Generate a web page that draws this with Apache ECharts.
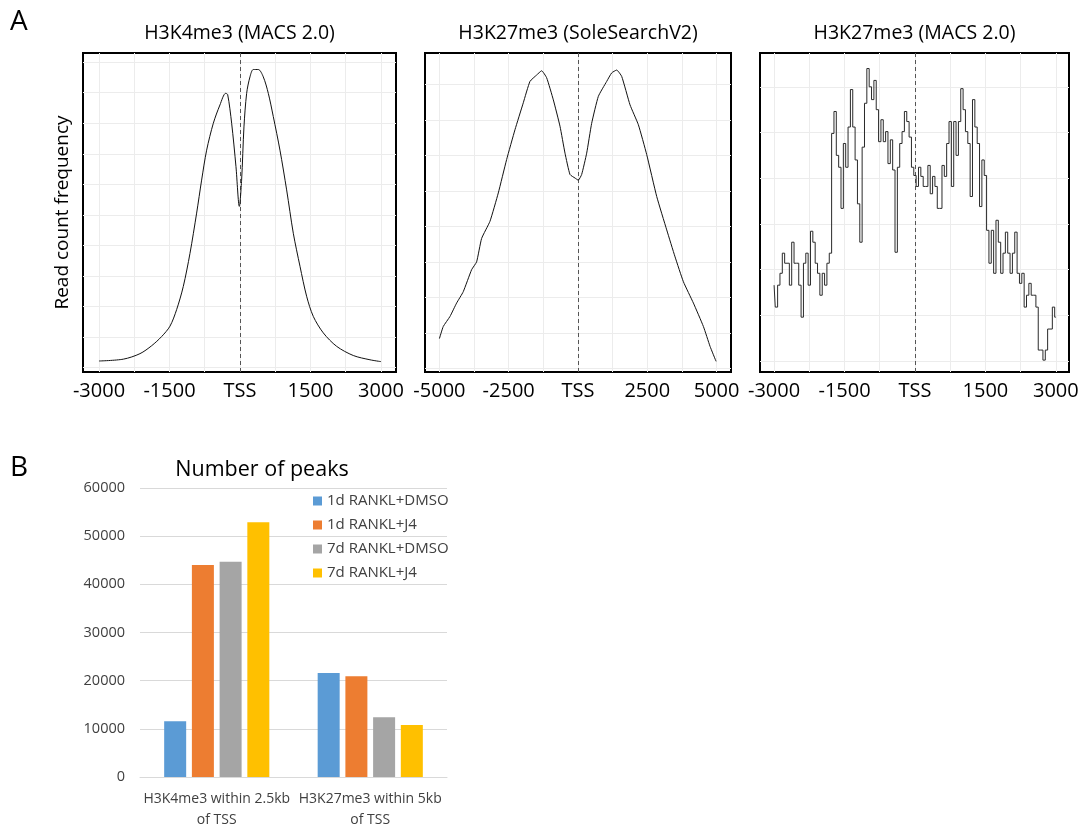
<!DOCTYPE html>
<html>
<head>
<meta charset="utf-8">
<script src="https://cdn.jsdelivr.net/npm/echarts@6/dist/echarts.min.js"></script>
<style>
  html, body { margin: 0; background: #fff; }
  #chart { width: 1083px; height: 825px; }
</style>
</head>
<body>
<div id="chart"></div>
<script>
// A1 - H3K4me3 (MACS 2.0), position vs relative read count
var k4Pos = [-3000, -2482, -2128, -1879, -1667, -1489, -1348, -1206, -1064, -922, -816, -709, -567, -426, -305, -262,
  -177, -85, -14, 35, 85, 142, 213, 284, 390, 496, 603, 709, 851, 993, 1135, 1277, 1418, 1560, 1773, 2057, 2411, 2766, 3000];
var k4Val = [0.11, 0.14, 0.23, 0.36, 0.51, 0.68, 0.95, 1.33, 1.87, 2.53, 3.07, 3.56, 4.0, 4.30, 4.49, 4.47,
  4.0, 3.29, 2.64, 3.07, 3.94, 4.49, 4.76, 4.88, 4.88, 4.76, 4.49, 4.11, 3.56, 2.91, 2.20, 1.66, 1.17, 0.84, 0.57, 0.35, 0.20, 0.13, 0.10];

// A2 - H3K27me3 (SoleSearchV2)
var solePos = [-5000, -4862, -4621, -4380, -4140, -3838, -3658, -3477, -3177, -2876, -2575, -2274, -1973, -1733, -1492, -1311,
  -1130, -890, -650, -469, -289, -108, 12, 132, 313, 493, 734, 1035, 1216, 1396, 1577, 1877, 2178, 2479, 2840, 3201, 3502,
  3803, 4164, 4525, 4765, 4982];
var soleVal = [-0.08, 0.09, 0.23, 0.42, 0.58, 0.89, 1.00, 1.33, 1.57, 1.97, 2.44, 2.86, 3.24, 3.54, 3.63, 3.69,
  3.59, 3.28, 2.91, 2.53, 2.23, 2.18, 2.15, 2.23, 2.53, 2.95, 3.33, 3.54, 3.66, 3.70, 3.61, 3.21, 2.93, 2.51, 1.92, 1.45, 1.07,
  0.72, 0.42, 0.09, -0.19, -0.40];

// A3 - H3K27me3 (MACS 2.0), 50 bp bins from -3000
var macsStart = -3000;
var macsBin = 50;
var macsVal = [0.83, 0.59, 0.83, 0.96, 1.18, 1.07, 1.07, 0.83, 1.30, 1.07, 1.07, 0.83, 0.48, 1.07, 1.18, 0.83,
  1.42, 1.30, 1.07, 0.96, 0.72, 0.96, 0.83, 1.07, 1.18, 2.49, 2.73, 2.25, 2.12, 1.67, 2.38, 2.12,
  2.56, 2.97, 2.56, 2.20, 1.72, 1.30, 2.34, 2.82, 3.20, 3.00, 2.86, 3.07, 2.75, 2.40, 2.64, 2.40,
  2.51, 2.16, 2.42, 2.09, 1.19, 2.12, 2.38, 2.51, 2.73, 2.62, 2.45, 2.12, 2.03, 1.91, 2.12, 2.02,
  1.91, 1.91, 2.14, 1.83, 2.02, 1.91, 1.67, 1.67, 2.14, 2.02, 2.38, 2.62, 1.91, 2.62, 2.25, 2.62,
  2.98, 2.75, 2.51, 2.38, 1.80, 2.86, 2.56, 2.38, 1.69, 2.20, 2.03, 1.43, 1.07, 1.43, 0.96, 1.54,
  1.30, 0.96, 1.18, 1.41, 1.18, 0.96, 1.18, 1.41, 0.96, 0.85, 0.96, 0.59, 0.72, 0.85, 0.72, 0.72,
  0.59, 0.12, 0.12, 0.01, 0.12, 0.35, 0.35, 0.59, 0.48];

// B - number of peaks
var peakCats = ['H3K4me3 within 2.5kb\nof TSS', 'H3K27me3 within 5kb\nof TSS'];
var peakNames = ['1d RANKL+DMSO', '1d RANKL+J4', '7d RANKL+DMSO', '7d RANKL+J4'];
var peakVals = [
  [11600, 21600],
  [44000, 20900],
  [44700, 12400],
  [52900, 10800]
];
var peakColors = ['#5B9BD5', '#ED7D31', '#A5A5A5', '#FFC000'];

var FONT = 'Open Sans';

function pairs(xs, ys) {
  return xs.map(function (x, i) { return [x, ys[i]]; });
}

function gridMarks(xs, ys) {
  var d = [];
  xs.forEach(function (v) { d.push({ xAxis: v }); });
  ys.forEach(function (v) { d.push({ yAxis: v }); });
  d.push({ xAxis: 0, lineStyle: { color: '#555', type: [4, 3], width: 1 } });
  return d;
}

function range(a, b, step) {
  var out = [];
  for (var v = a; v <= b + 1e-9; v += step) out.push(+v.toFixed(3));
  return out;
}

// profile panels
var profiles = [
  { title: 'H3K4me3 (MACS 2.0)', left: 83, width: 313, xMin: -3340, xMax: 3320, yMin: -0.07, yMax: 5.15,
    xLabels: [-3000, -1500, 0, 1500, 3000], yTicks: [0, 1, 2, 3, 4, 5],
    xGrid: range(-3000, 3000, 750), yGrid: range(0, 5, 0.5),
    data: pairs(k4Pos, k4Val), smooth: 0.3, step: false },
  { title: 'H3K27me3 (SoleSearchV2)', left: 425, width: 306, xMin: -5520, xMax: 5520, yMin: -0.55, yMax: 3.94,
    xLabels: [-5000, -2500, 0, 2500, 5000], yTicks: [0, 1, 2, 3],
    xGrid: range(-5000, 5000, 1250), yGrid: range(-0.5, 3.5, 0.5),
    data: pairs(solePos, soleVal), smooth: 0.15, step: false },
  { title: 'H3K27me3 (MACS 2.0)', left: 760, width: 309, xMin: -3300, xMax: 3280, yMin: -0.12, yMax: 3.37,
    xLabels: [-3000, -1500, 0, 1500, 3000], yTicks: [0, 1, 2, 3],
    xGrid: range(-3000, 3000, 750), yGrid: range(0, 3, 0.5),
    data: macsVal.map(function (v, i) { return [macsStart + i * macsBin, v]; }), smooth: false, step: 'middle' }
];

var grids = [], xAxes = [], yAxes = [], series = [], graphics = [];

profiles.forEach(function (p, i) {
  grids.push({ left: p.left, top: 53, width: p.width, height: 319, show: true, outerBoundsMode: 'none',
    borderColor: '#000', borderWidth: 2, backgroundColor: '#fff' });
  xAxes.push({
    type: 'value', gridIndex: i, min: p.xMin, max: p.xMax,
    axisLine: { show: false },
    axisTick: { show: true, customValues: p.xLabels, length: 4, lineStyle: { color: '#333' } },
    axisLabel: { customValues: p.xLabels, margin: 9, color: '#000', fontFamily: FONT, fontSize: 20,
      formatter: function (v) { return v === 0 ? 'TSS' : String(v); } },
    splitLine: { show: false }
  });
  yAxes.push({
    type: 'value', gridIndex: i, min: p.yMin, max: p.yMax,
    axisLine: { show: false },
    axisTick: { show: true, customValues: p.yTicks, length: 3, lineStyle: { color: '#333' } },
    axisLabel: { show: false },
    splitLine: { show: false },
    name: i === 0 ? 'Read count frequency' : '',
    nameLocation: 'middle', nameRotate: 90, nameGap: 11,
    nameTextStyle: { color: '#000', fontFamily: FONT, fontSize: 19 }
  });
  // background grid + TSS line, kept under the profile
  series.push({
    type: 'line', xAxisIndex: i, yAxisIndex: i, data: [], z: 1, silent: true,
    markLine: {
      z: 1, silent: true, symbol: 'none', label: { show: false },
      lineStyle: { color: '#ececec', width: 1, type: 'solid' },
      data: gridMarks(p.xGrid, p.yGrid)
    }
  });
  series.push({
    type: 'line', xAxisIndex: i, yAxisIndex: i, data: p.data, z: 6,
    showSymbol: false, smooth: p.smooth, step: p.step,
    lineStyle: { color: i === 2 ? '#2a2a2a' : '#111', width: 1 }
  });
  graphics.push({ type: 'text', x: p.left + p.width / 2, y: 33,
    style: { text: p.title, fill: '#000', font: '19.5px "' + FONT + '"', textAlign: 'center', textVerticalAlign: 'middle' } });
});

// bar panel
grids.push({ left: 140, top: 488, width: 307, height: 289, outerBoundsMode: 'none' });
xAxes.push({
  type: 'category', gridIndex: 3, data: peakCats,
  axisLine: { lineStyle: { color: '#d9d9d9', width: 1 } },
  axisTick: { show: false },
  axisLabel: { color: '#404040', fontFamily: FONT, fontSize: 14, lineHeight: 21, margin: 12, interval: 0 }
});
yAxes.push({
  type: 'value', gridIndex: 3, min: 0, max: 60000, interval: 10000,
  axisLine: { show: false }, axisTick: { show: false },
  axisLabel: { color: '#404040', fontFamily: FONT, fontSize: 14.5, margin: 15,
    formatter: function (v) { return String(v); } },
  splitLine: { lineStyle: { color: '#d9d9d9', width: 1 } }
});
peakNames.forEach(function (name, i) {
  series.push({
    name: name, type: 'bar', xAxisIndex: 3, yAxisIndex: 3,
    data: peakVals[i], barWidth: 22, barGap: '26%',
    itemStyle: { color: peakColors[i] }
  });
});

graphics.push({ type: 'text', x: 262, y: 470,
  style: { text: 'Number of peaks', fill: '#000', font: '21.5px "' + FONT + '"', textAlign: 'center', textVerticalAlign: 'middle' } });
graphics.push({ type: 'text', x: 10, y: 22,
  style: { text: 'A', fill: '#000', font: '28px "' + FONT + '"', textVerticalAlign: 'middle' } });
graphics.push({ type: 'text', x: 10, y: 468,
  style: { text: 'B', fill: '#000', font: '28px "' + FONT + '"', textVerticalAlign: 'middle' } });

var chart = echarts.init(document.getElementById('chart'));
chart.setOption({
  animation: false,
  backgroundColor: '#fff',
  grid: grids,
  xAxis: xAxes,
  yAxis: yAxes,
  legend: {
    data: peakNames, orient: 'vertical', left: 313, top: 493, padding: 0,
    icon: 'rect', itemWidth: 9, itemHeight: 9, itemGap: 8,
    textStyle: { color: '#404040', fontFamily: FONT, fontSize: 15, lineHeight: 16 }
  },
  graphic: graphics,
  series: series
});
</script>
</body>
</html>
